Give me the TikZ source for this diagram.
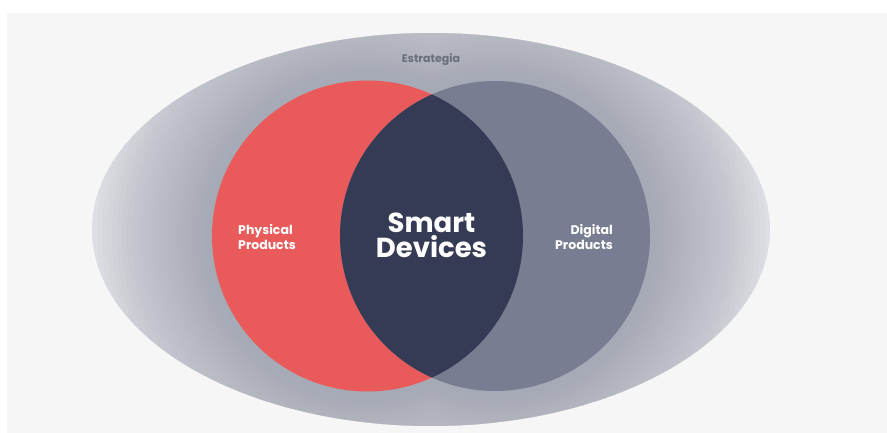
\documentclass[tikz,border=0pt]{standalone}
\usepackage{fontspec}
\setmainfont{Poppins}
\definecolor{pagebg}{HTML}{F6F6F6}
\definecolor{ellbase}{HTML}{E9EAED}
\definecolor{halo}{HTML}{8F92A3}
\definecolor{redc}{HTML}{E85B5A}
\definecolor{grayc}{HTML}{787D92}
\definecolor{navyc}{HTML}{363B55}
\definecolor{estrc}{HTML}{6A6D7C}
\begin{document}
\begin{tikzpicture}[x=1pt,y=-1pt,
  lbl/.style={text=white,font=\bfseries\fontsize{12.5}{14.5}\selectfont,inner sep=0pt},
  big/.style={text=white,font=\bfseries\fontsize{27.5}{25}\selectfont,inner sep=0pt,align=center}]
\useasboundingbox (0,0) rectangle (887,433);
\fill[white] (0,0) rectangle (887,433);
\fill[pagebg] (7,13) rectangle (887,433);
% strategy ellipse with halo
\begin{scope}
  \clip (431,229.5) ellipse [x radius=339pt, y radius=196.5pt];
  \fill[ellbase] (431,229.5) ellipse [x radius=339pt, y radius=196.5pt];
  \foreach \d in {130,125,...,5}{
    \fill[halo,opacity=0.038] (367.5,236) circle [radius=155.5pt+\d pt]
                              (495,236) circle [radius=155pt+\d pt];
  }
\end{scope}
% circles
\fill[redc] (367.5,236) circle [radius=155.5pt];
\fill[grayc] (495,236) circle [radius=155pt];
\begin{scope}
  \clip (367.5,236) circle [radius=155.5pt];
  \fill[navyc] (495,236) circle [radius=155pt];
\end{scope}
% texts
\node[text=estrc,font=\bfseries\fontsize{11}{13}\selectfont,inner sep=0pt,anchor=base] (estr) at (431,63) {Estrategia};
\node[lbl,align=left,anchor=west] (phys) at (238,237) {Physical\\Products};
\node[lbl,align=right,anchor=east] (digi) at (613,237) {Digital\\Products};
\node[big] (smart) at (431.5,235.5) {Smart\\Devices};
\end{tikzpicture}
\end{document}
